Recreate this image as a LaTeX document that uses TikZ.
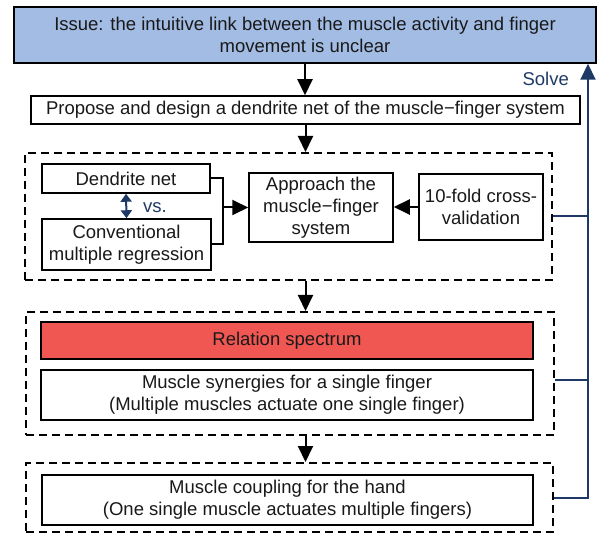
\documentclass[tikz,border=0pt]{standalone}
\usepackage{fontspec}
\setmainfont{Liberation Sans}
\usetikzlibrary{arrows.meta}
\definecolor{issueblue}{HTML}{A3BCE3}
\definecolor{specred}{HTML}{F05752}
\definecolor{navy}{HTML}{1F3966}
\tikzset{
  box/.style={draw=black, line width=1.5pt, fill=white, inner sep=0pt, align=center,
    font=\fontsize{18.5}{22}\selectfont, text=black!90},
  group/.style={draw=black, line width=2pt, dash pattern=on 8pt off 5pt, inner sep=0pt},
  flow/.style={line width=2pt, -{Triangle[length=16pt,width=15pt]}},
  joint/.style={line width=2pt},
  solve/.style={draw=navy, line width=2pt},
  solvearr/.style={solve, -{Triangle[length=16pt,width=15pt]}},
  vsarr/.style={draw=navy, line width=2pt, {Triangle[length=8pt,width=11pt]}-{Triangle[length=8pt,width=11pt]}},
  navytext/.style={text=navy, font=\fontsize{18.5}{22}\selectfont, inner sep=0pt}
}
\begin{document}
\begin{tikzpicture}[x=1pt, y=-1pt]
\useasboundingbox (0,0) rectangle (597,534);

% top issue and proposal
\node[box, fill=issueblue, minimum width=582pt, minimum height=56pt] (issue) at (305,35)
  {Issue: the intuitive link between the muscle activity and finger\\movement is unclear};
\node[box, minimum width=549pt, minimum height=28pt] (propose) at (305.5,110)
  {Propose and design a dendrite net of the muscle−finger system};

% first dashed group: methods
\node[group, minimum width=527pt, minimum height=127pt] (g1) at (288.5,216.5) {};
\node[box, minimum width=168pt, minimum height=29pt] (dend) at (126,178.5) {Dendrite net};
\node[box, minimum width=169pt, minimum height=51pt] (conv) at (126.5,244.5)
  {Conventional\\multiple regression};
\node[box, minimum width=144pt, minimum height=69pt] (approach) at (321,207.5)
  {Approach the\\muscle−finger\\system};
\node[box, minimum width=124pt, minimum height=66pt] (tenfold) at (481,207)
  {10-fold cross-\\validation};
\node[navytext, anchor=west] (vs) at (143,208) {vs.};

% second dashed group: spectrum and synergies
\node[group, minimum width=528pt, minimum height=123pt] (g2) at (290,373.5) {};
\node[box, fill=specred, minimum width=492pt, minimum height=37pt] (spec) at (287,340.5)
  {Relation spectrum};
\node[box, minimum width=492pt, minimum height=50pt] (syn) at (287,395)
  {Muscle synergies for a single finger\\(Multiple muscles actuate one single finger)};

% third dashed group: coupling
\node[group, minimum width=527pt, minimum height=69pt] (g3) at (289.5,497.5) {};
\node[box, minimum width=491pt, minimum height=50pt] (coup) at (287.5,500)
  {Muscle coupling for the hand\\(One single muscle actuates multiple fingers)};

% main flow
\draw[flow] (issue.south) -- (issue.south |- propose.north);
\draw[flow] (propose.south) -- (propose.south |- g1.north);
\draw[flow] (g1.south -| propose.south) -- (g2.north -| propose.south);
\draw[flow] (g2.south -| propose.south) -- (g3.north -| propose.south);

% merging the two models into the approach
\coordinate (join) at (223,207.5);
\draw[joint] (dend.east) -| (join) |- (conv.east);
\draw[flow] (join) -- (approach.west);
\draw[flow] (tenfold.west) -- (tenfold.west -| approach.east);
\draw[vsarr] (dend.south) -- (conv.north);

% feedback rail back to the issue
\coordinate (rail) at (588,0);
\draw[solve] (g1.east) -- (g1.east -| rail);
\draw[solve] ([yshift=-6.5pt]g2.east) -- ([yshift=-6.5pt]g2.east -| rail);
\draw[solvearr] (g3.east) -- (g3.east -| rail) -- (rail |- issue.south);
\node[navytext, anchor=east] (solvelbl) at (569,79) {Solve};
\end{tikzpicture}
\end{document}
